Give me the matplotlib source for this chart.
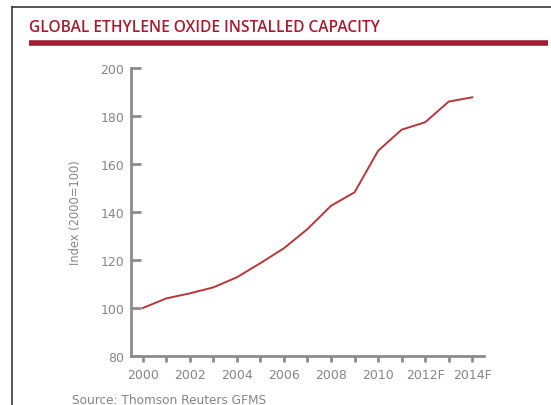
import matplotlib
matplotlib.use("Agg")
import matplotlib.pyplot as plt
from matplotlib.lines import Line2D

years = [2000, 2001, 2002, 2003, 2004, 2005, 2006, 2007, 2008, 2009, 2010, 2011, 2012, 2013, 2014]
index_values = [100, 104.0, 106.1, 108.6, 112.8, 118.7, 124.9, 132.9, 142.6, 148.2, 165.5, 174.3, 177.4, 186.0, 187.8]
x_tick_labels = ["2000", "", "2002", "", "2004", "", "2006", "", "2008", "", "2010", "", "2012F", "", "2014F"]
y_ticks = [80, 100, 120, 140, 160, 180, 200]

plt.rcParams['font.family'] = ['DejaVu Sans']
W, H = 551, 406
fig = plt.figure(figsize=(W / 100, H / 100), dpi=100)
fig.patch.set_facecolor('white')

ax = fig.add_axes([131 / W, (H - 357) / H, 353 / W, 288 / H])
ax.plot(years, index_values, color='#b5373c', linewidth=1.4)
ax.set_xlim(1999.5, 2014.5)
ax.set_ylim(80, 200)
ax.set_xticks(years)
ax.set_xticklabels(x_tick_labels)
ax.set_yticks(y_ticks)

grey = '#8c8c8c'
txt = '#858585'
for s in ['top', 'right']:
    ax.spines[s].set_visible(False)
for s in ['left', 'bottom']:
    ax.spines[s].set_color(grey)
    ax.spines[s].set_linewidth(2.0)
ax.tick_params(axis='y', direction='in', length=7, width=2.0, color=grey,
               labelcolor=txt, labelsize=9, pad=5)
ax.tick_params(axis='x', direction='out', length=4.5, width=2.0, color=grey,
               labelcolor=txt, labelsize=9, pad=4)
ax.set_ylabel('Index (2000=100)', color=txt, fontsize=8.3)
ax.yaxis.set_label_coords((76 - 131) / 353, 0.5)
ax.yaxis.label.set_va('center')

# frame lines
fig.add_artist(Line2D([11.5 / W, 1.0], [1 - 7.5 / H, 1 - 7.5 / H], color='#3a3a3a', linewidth=1.2,
                      transform=fig.transFigure))
fig.add_artist(Line2D([11.5 / W, 11.5 / W], [0, 1 - 7.5 / H], color='#3a3a3a', linewidth=1.2,
                      transform=fig.transFigure))
# red bar
fig.add_artist(Line2D([29 / W, 548 / W], [1 - 44 / H, 1 - 44 / H], color='#a51c30', linewidth=4.0,
                      solid_capstyle='butt', transform=fig.transFigure))

fig.text(29 / W, 1 - 28 / H, 'GLOBAL ETHYLENE OXIDE INSTALLED CAPACITY', color='#a51c30',
         fontsize=11.2, va='center', ha='left', family=['Open Sans', 'DejaVu Sans'], weight='semibold')
fig.text(72 / W, 1 - 401 / H, 'Source: Thomson Reuters GFMS', color=txt,
         fontsize=8.7, va='center', ha='left')

fig.savefig('out.png', dpi=100)
